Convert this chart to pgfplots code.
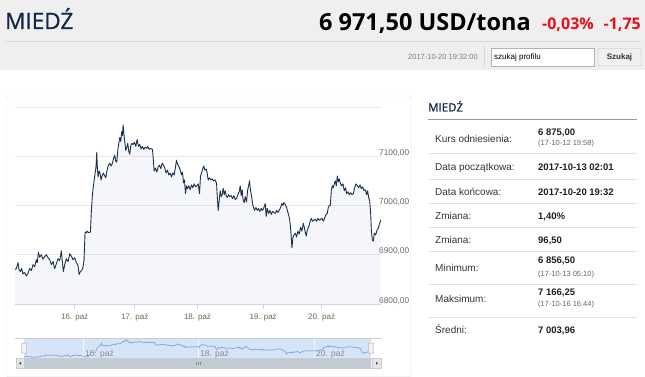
\documentclass[border=0pt]{standalone}
\usepackage{pgfplots}
\pgfplotsset{compat=1.18}
\usepackage{pgfplotstable}
\usepackage{fontspec}
\setmainfont{Liberation Sans}
\newfontfamily\headfont{Open Sans}
\newfontfamily\headmed[FakeBold=0.7]{Open Sans}

\definecolor{hdrbg}{HTML}{EFEFEF}
\definecolor{navy}{HTML}{13254A}
\definecolor{redc}{HTML}{E8101A}
\definecolor{gridc}{HTML}{E6E6E6}
\definecolor{axisc}{HTML}{CCD6EB}
\definecolor{linec}{HTML}{1C3150}
\definecolor{txtg}{HTML}{666666}
\definecolor{navbg}{HTML}{D5E4F6}
\definecolor{navline}{HTML}{7FA8DC}
\definecolor{thumbc}{HTML}{C2CAD3}
\definecolor{sepc}{HTML}{E2E2E2}

\pgfplotstableread{
x y
46 6870
50 6872
55 6884
58 6870
62 6866
66 6872
70 6861
75 6864
80 6857
85 6862
90 6872
95 6868
100 6880
105 6876
110 6890
113 6884
116 6905
120 6895
125 6900
130 6891
135 6896
140 6900
145 6894
150 6890
155 6880
160 6886
165 6872
170 6882
175 6892
180 6888
185 6908
188 6885
191 6866
195 6880
200 6892
205 6886
210 6902
215 6897
220 6890
225 6894
230 6884
235 6878
238 6860
242 6866
246 6868
250 6875
253 6890
256 6946
259 6944
262 6948
266 6945
272 6946
275 6990
278 7022
281 7040
284 7055
287 7070
289 7080
291 7108
293 7075
295 7058
298 7070
301 7065
304 7052
307 7060
311 7066
315 7060
318 7056
322 7072
326 7082
330 7086
334 7080
338 7086
341 7095
345 7102
348 7090
351 7088
354 7112
357 7126
360 7138
363 7130
366 7150
368 7142
370 7164
372 7148
375 7130
378 7112
381 7118
384 7126
387 7110
390 7104
393 7122
396 7126
400 7124
404 7128
408 7120
412 7134
416 7120
420 7124
424 7115
428 7120
432 7114
436 7118
440 7116
444 7120
448 7114
452 7116
458 7114
461 7090
463 7070
467 7076
471 7068
475 7078
479 7082
483 7075
487 7086
491 7082
495 7076
499 7066
503 7072
507 7062
511 7066
515 7058
519 7066
523 7062
527 7078
530 7092
533 7084
537 7080
541 7072
545 7062
548 7068
551 7046
554 7052
557 7024
560 7040
563 7034
567 7040
571 7032
575 7042
579 7036
583 7044
587 7038
591 7040
595 7044
599 7024
602 7060
606 7068
609 7076
612 7080
615 7072
619 7074
622 7066
625 7052
629 7056
633 7052
637 7054
641 7050
645 7052
650 7046
653 7010
655 6990
658 7010
661 7030
664 7018
667 7022
670 7035
673 7022
676 7030
679 7020
682 7016
686 7022
690 7018
694 7020
698 7014
702 7020
706 7012
710 7014
714 7022
718 7028
721 7040
724 7020
727 7032
730 7010
733 7006
736 7018
740 7007
743 7030
746 7040
749 7050
752 7030
755 7020
758 7004
761 6996
764 6990
768 6996
772 6990
776 6994
780 6988
784 6994
788 6990
792 6996
796 7004
799 6978
802 6994
806 6984
810 6990
814 6982
818 6988
822 6986
826 6984
830 6990
834 6986
838 6990
842 6996
846 7004
849 7000
852 7006
856 7002
860 6996
864 6986
868 6976
871 6962
874 6936
876 6914
879 6935
882 6940
886 6944
890 6936
894 6948
898 6942
902 6956
906 6948
910 6964
913 6956
916 6946
919 6938
922 6950
926 6956
930 6966
934 6974
938 6968
942 6970
946 6972
950 6968
954 6974
958 6970
962 6972
966 6974
970 6968
974 6974
978 6982
982 6984
985 6996
988 7000
991 7000
994 7030
997 7040
1000 7036
1003 7044
1006 7050
1009 7040
1012 7060
1015 7048
1018 7054
1021 7045
1025 7040
1029 7044
1033 7030
1037 7036
1040 7024
1044 7028
1048 7022
1052 7026
1056 7022
1060 7024
1064 7036
1068 7044
1072 7040
1076 7036
1080 7042
1084 7034
1088 7038
1092 7030
1096 7032
1100 7022
1103 7030
1106 7016
1109 7010
1112 6985
1114 6950
1117 6930
1120 6928
1123 6944
1127 6940
1131 6950
1135 6954
1138 6962
1141 6968
1143 6971
}\pricedata

\begin{document}
\begin{tikzpicture}[x=1pt,y=1pt]
\path[use as bounding box] (0,0) rectangle (645,-377);
% header
\fill[hdrbg] (0,0) rectangle (645,-70);
\draw[black!15, line width=0.8pt] (5,-41.5) -- (641,-41.5);
\node[anchor=base west, inner sep=0pt, text=navy] at (5,-29) {\headmed\fontsize{22.5}{25}\selectfont MIEDŹ};
\node[anchor=base east, inner sep=0pt, text=black] at (531,-31) {\headfont\bfseries\fontsize{23.5}{26}\selectfont 6 971,50 USD/tona};
\node[anchor=base west, inner sep=0pt, text=redc] at (542,-30) {\headfont\bfseries\fontsize{16}{18}\selectfont -0,03\%};
\node[anchor=base east, inner sep=0pt, text=redc] at (641,-30) {\headfont\bfseries\fontsize{16}{18}\selectfont -1,75};
\node[anchor=base east, inner sep=0pt, text=black!50] at (478,-59.5) {\fontsize{7.5}{9}\selectfont 2017-10-20 19:32:00};
\draw[black!15] (484,-46) -- (484,-67);
\draw[black!30, fill=white] (491,-48.5) rectangle (594,-66);
\node[anchor=base west, inner sep=0pt] at (494,-59.5) {\fontsize{8}{9}\selectfont szukaj profilu};
\draw[black!25, fill=black!6, rounded corners=1pt] (598,-48.5) rectangle (641,-66);
\node[anchor=base, inner sep=0pt, text=black!80] at (619.5,-60) {\fontsize{8}{9}\selectfont\bfseries Szukaj};
% chart panel
\draw[black!12, rounded corners=2pt] (6,-96) rectangle (411,-376.5);
\begin{scope}[shift={(15,-304)}]
\begin{axis}[
 at={(0,0)}, anchor=south west, scale only axis, width=366pt, height=197pt,
 xmin=46, xmax=1143, ymin=6800, ymax=7200,
 axis line style={draw=none},
 xtick={225,405,593,790,965},
 xticklabels={16. paź,17. paź,18. paź,19. paź,20. paź},
 ytick={6800,6900,7000,7100,7200},
 yticklabels={{6800,00},{6900,00},{7000,00},{7100,00},{}},
 yticklabel pos=right, ytick pos=right, xtick pos=bottom, xticklabel pos=bottom,
 ymajorgrids, grid style={draw=gridc, line width=0.8pt},
 tick align=outside,
 x tick style={draw=axisc, line width=0.8pt},
 major tick length=5pt,
 y tick style={draw=none},
 yticklabel style={anchor=base west, inner sep=0pt, xshift=-7pt, yshift=1pt, font=\fontsize{8.3}{9}\selectfont, text=txtg},
 xticklabel style={font=\fontsize{8}{9}\selectfont, text=txtg, inner sep=0pt, yshift=-4pt},
]
\addplot[draw=none, fill={rgb,255:red,200;green,210;blue,225}, fill opacity=0.2] table[x=x,y=y] {\pricedata} \closedcycle;
\addplot[draw=linec, line width=0.9pt, line join=round] table[x=x,y=y] {\pricedata};
\draw[axisc, line width=0.8pt] (rel axis cs:0,0) -- (rel axis cs:1,0);
\end{axis}
\end{scope}
% navigator
\draw[black!20, line width=0.8pt] (15,-338.5) -- (381,-338.5);
\fill[navbg] (24,-339) rectangle (371,-358.5);
\foreach \gx in {83,198,314} {\draw[white!70!navbg, line width=0.8pt] (\gx,-339) -- (\gx,-358.5);}
\node[anchor=base west, inner sep=0pt, text=black!45] at (85,-356) {\fontsize{8.5}{9}\selectfont 16. paź};
\node[anchor=base west, inner sep=0pt, text=black!45] at (200,-356) {\fontsize{8.5}{9}\selectfont 18. paź};
\node[anchor=base west, inner sep=0pt, text=black!45] at (316,-356) {\fontsize{8.5}{9}\selectfont 20. paź};
\begin{scope}[shift={(24,-358)}]
\begin{axis}[
 at={(0,0)}, anchor=south west, scale only axis, width=347pt, height=19pt,
 xmin=46, xmax=1143, ymin=6848, ymax=7176, hide axis,
]
\addplot[draw=navline, line width=0.7pt] table[x=x,y=y] {\pricedata};
\end{axis}
\end{scope}
\draw[black!40, fill=black!5, rounded corners=1pt] (21.5,-343) rectangle (26.5,-353.5);
\draw[black!40, fill=black!5, rounded corners=1pt] (368.5,-343) rectangle (373.5,-353.5);
% scrollbar
\draw[black!20, fill=black!5] (16,-358.5) rectangle (381,-368);
\draw[black!20, fill=black!10] (16,-358.5) rectangle (24,-368);
\draw[black!20, fill=black!10] (372,-358.5) rectangle (381,-368);
\fill[thumbc] (24,-358.5) rectangle (371,-368);
\fill[black!70] (19,-363.25) -- (21,-361.75) -- (21,-364.75) -- cycle;
\fill[black!70] (378,-363.25) -- (376,-361.75) -- (376,-364.75) -- cycle;
\foreach \gx in {196,198,200} {\draw[black!45, line width=0.6pt] (\gx,-361.5) -- (\gx,-365);}
% right table
\node[anchor=base west, inner sep=0pt, text=navy!90!black] at (428,-111.5) {\headmed\fontsize{11.5}{13}\selectfont MIEDŹ};
\draw[black!40, line width=1pt] (428,-119.5) -- (637,-119.5);
\foreach \sy in {153,179,203,227,251,284,317} {\draw[sepc, line width=0.8pt] (428,-\sy) -- (637,-\sy);}
\def\lab#1#2{\node[anchor=base west, inner sep=0pt, text=black!80] at (435,-#1) {\fontsize{10}{12}\selectfont #2};}
\def\val#1#2{\node[anchor=base west, inner sep=0pt, text=black!88] at (538,-#1) {\fontsize{9.5}{11}\selectfont\bfseries #2};}
\def\sml#1#2{\node[anchor=base west, inner sep=0pt, text=black!60] at (538,-#1) {\fontsize{7.5}{9}\selectfont #2};}
\lab{142.5}{Kurs odniesienia:}
\val{135.5}{6 875,00}
\sml{146}{(17-10-12 19:58)}
\lab{170.5}{Data początkowa:}
\val{170.5}{2017-10-13 02:01}
\lab{195.5}{Data końcowa:}
\val{195.5}{2017-10-20 19:32}
\lab{219.5}{Zmiana:}
\val{219.5}{1,40\%}
\lab{243.5}{Zmiana:}
\val{243.5}{96,50}
\lab{271.5}{Minimum:}
\val{263.5}{6 856,50}
\sml{276}{(17-10-13 05:10)}
\lab{302.5}{Maksimum:}
\val{295.5}{7 166,25}
\sml{306}{(17-10-16 16:44)}
\lab{333.5}{Średni:}
\val{333.5}{7 003,96}
\end{tikzpicture}
\end{document}
